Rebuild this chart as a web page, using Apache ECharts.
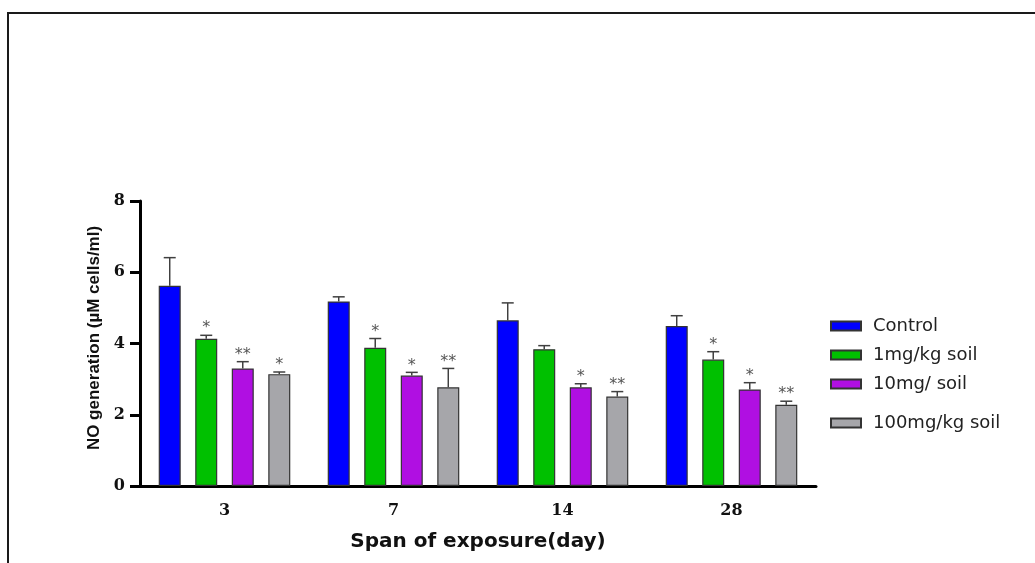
<!DOCTYPE html>
<html>
<head>
<meta charset="utf-8">
<title>NO generation by span of exposure</title>
<script src="https://cdn.jsdelivr.net/npm/echarts@6/dist/echarts.min.js"></script>
<style>
  html, body { margin: 0; padding: 0; background: #ffffff; }
  #chart { width: 1035px; height: 563px; }
</style>
</head>
<body>
<div id="chart"></div>
<script>
// Exposure days on the x axis
const categories = ['3', '7', '14', '28'];

// Series names (legend order)
const seriesNames = ['Control', '1mg/kg soil', '10mg/ soil', '100mg/kg soil'];

// Mean NO generation (µM cells/ml)
const controlValues = [5.62, 5.18, 4.65, 4.49];
const mg1Values     = [4.13, 3.88, 3.84, 3.55];
const mg10Values    = [3.30, 3.10, 2.77, 2.71];
const mg100Values   = [3.14, 2.77, 2.51, 2.28];

// Upper error (SD)
const controlErr = [0.79, 0.13, 0.49, 0.29];
const mg1Err     = [0.10, 0.26, 0.10, 0.22];
const mg10Err    = [0.19, 0.09, 0.10, 0.19];
const mg100Err   = [0.06, 0.53, 0.14, 0.10];

// Significance marks
const controlStars = ['', '', '', ''];
const mg1Stars     = ['*', '*', '', '*'];
const mg10Stars    = ['**', '*', '*', '*'];
const mg100Stars   = ['*', '**', '**', '**'];

// Y axis ticks
const yMin = 0, yMax = 8, yStep = 2;

const colors = ['#0000FF', '#00C000', '#B00FE2', '#A6A6AA'];
const values = [controlValues, mg1Values, mg10Values, mg100Values];
const errors = [controlErr, mg1Err, mg10Err, mg100Err];
const stars  = [controlStars, mg1Stars, mg10Stars, mg100Stars];

const BAR_W = 22;
const BAR_GAP = 0.66;               // gap between bars, as fraction of bar width
const PITCH = BAR_W * (1 + BAR_GAP); // centre-to-centre distance of bars in a group
const CAP = 12;

const chart = echarts.init(document.getElementById('chart'));

function errorRenderer(pos) {
  return function (params, api) {
    const i = api.value(0);
    const v = api.value(1);
    const e = api.value(2);
    const base = api.coord([i, v]);
    const top = api.coord([i, v + e]);
    const x = base[0] + (pos - (values.length - 1) / 2) * PITCH;
    const lineStyle = { stroke: '#404040', lineWidth: 1.5 };
    const children = [
      { type: 'line', shape: { x1: x, y1: base[1], x2: x, y2: top[1] }, style: lineStyle },
      { type: 'line', shape: { x1: x - CAP / 2, y1: top[1], x2: x + CAP / 2, y2: top[1] }, style: lineStyle }
    ];
    const mark = stars[pos][params.dataIndex];
    if (mark) {
      children.push({
        type: 'text',
        style: {
          text: mark, x: x, y: top[1] + 1,
          align: 'center', verticalAlign: 'bottom',
          fontFamily: 'DejaVu Sans', fontSize: 16, fill: '#555555'
        }
      });
    }
    return { type: 'group', children: children };
  };
}

const barSeries = seriesNames.map((name, k) => ({
  name: name,
  type: 'bar',
  data: values[k],
  barWidth: BAR_W,
  barGap: (BAR_GAP * 100) + '%',
  itemStyle: { color: colors[k], borderColor: '#333333', borderWidth: 1.2 },
  emphasis: { disabled: true },
  z: 2
}));

const errSeries = seriesNames.map((name, k) => ({
  name: name + ' error',
  type: 'custom',
  renderItem: errorRenderer(k),
  data: values[k].map((v, i) => [i, v, errors[k][i]]),
  encode: { x: 0, y: [1, 2] },
  silent: true,
  z: 3
}));

const legendText = { fontFamily: 'DejaVu Sans', fontSize: 18, color: '#222222', padding: [0, 0, 0, 7] };

chart.setOption({
  animation: false,
  backgroundColor: '#ffffff',
  grid: { left: 140, top: 201, width: 676, bottom: 77, containLabel: false },
  legend: [
    {
      data: seriesNames.slice(0, 3),
      orient: 'vertical', left: 825, top: 312,
      icon: 'rect', itemWidth: 30, itemHeight: 9, itemGap: 11,
      textStyle: legendText, selectedMode: false
    },
    {
      data: seriesNames.slice(3),
      orient: 'vertical', left: 825, top: 409,
      icon: 'rect', itemWidth: 30, itemHeight: 9,
      textStyle: legendText, selectedMode: false
    }
  ],
  xAxis: {
    type: 'category',
    data: categories,
    name: 'Span of exposure(day)',
    nameLocation: 'middle',
    nameGap: 46,
    nameTextStyle: { fontFamily: 'DejaVu Sans', fontWeight: 'bold', fontSize: 20, color: '#111111' },
    axisLine: { lineStyle: { color: '#000000', width: 3 } },
    axisTick: { alignWithLabel: true, length: 10, lineStyle: { color: '#000000', width: 3 } },
    axisLabel: { margin: 17, fontFamily: 'DejaVu Serif', fontWeight: 'bold', fontSize: 16, color: '#111111' }
  },
  yAxis: {
    type: 'value',
    min: yMin, max: yMax, interval: yStep,
    name: 'NO generation (µM cells/ml)',
    nameLocation: 'middle',
    nameGap: 31,
    nameRotate: 90,
    nameTextStyle: { fontFamily: 'Liberation Sans', fontWeight: 'bold', fontSize: 17, color: '#111111', padding: [0, 0, 0, 11] },
    axisLine: { show: true, lineStyle: { color: '#000000', width: 3 } },
    axisTick: { show: true, length: 10, lineStyle: { color: '#000000', width: 3 } },
    axisLabel: { margin: 15, fontFamily: 'DejaVu Serif', fontWeight: 'bold', fontSize: 16, color: '#111111' },
    splitLine: { show: false }
  },
  graphic: [
    {
      type: 'polyline',
      shape: { points: [[8, 563], [8, 13], [1035, 13]] },
      style: { stroke: '#1a1a1a', lineWidth: 2, fill: null },
      silent: true
    }
  ],
  series: barSeries.concat(errSeries)
});
</script>
</body>
</html>
